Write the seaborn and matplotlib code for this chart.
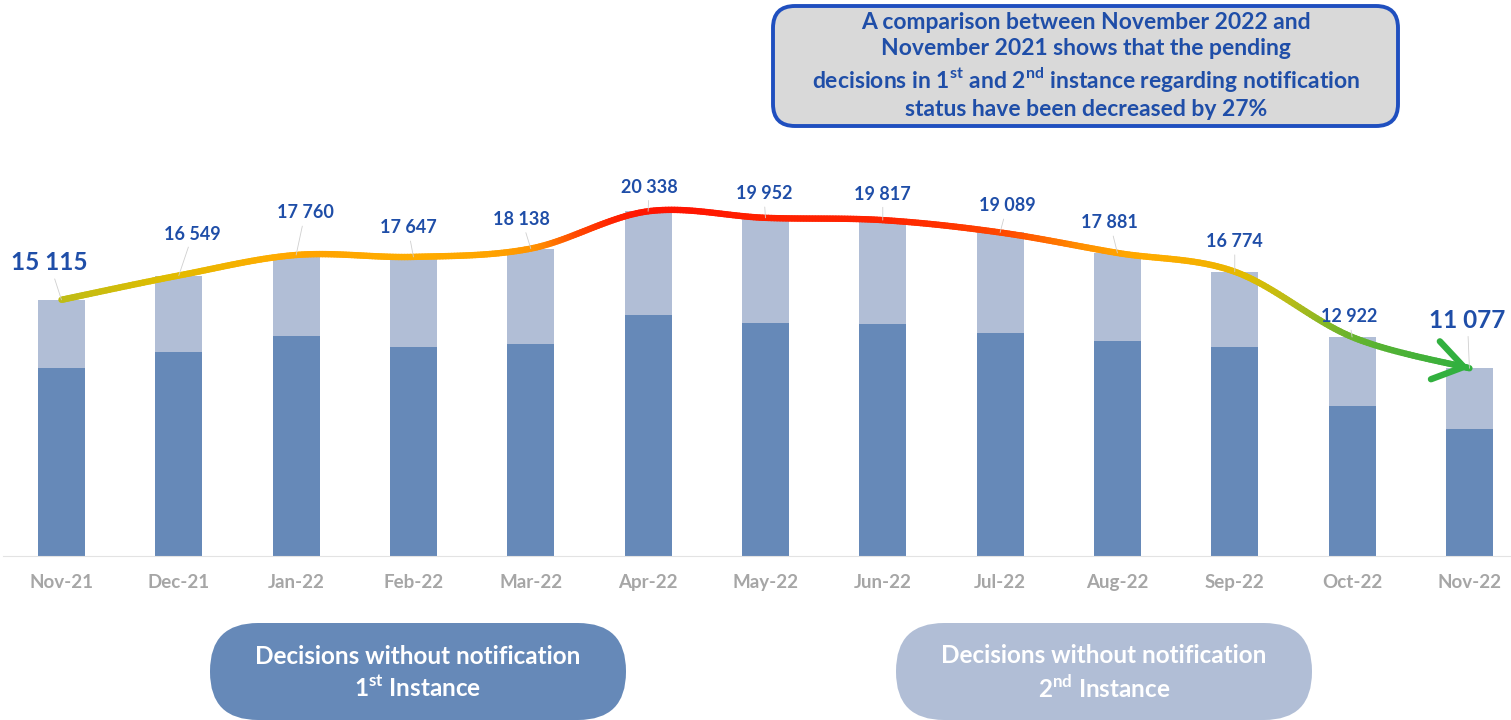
import numpy as np
import pandas as pd
import matplotlib
matplotlib.use("Agg")
import matplotlib.pyplot as plt
import seaborn as sns
from matplotlib.collections import LineCollection
from matplotlib.colors import LinearSegmentedColormap, Normalize
from matplotlib.patches import FancyBboxPatch

# ---------------- data ----------------
months = ['Nov-21', 'Dec-21', 'Jan-22', 'Feb-22', 'Mar-22', 'Apr-22', 'May-22',
          'Jun-22', 'Jul-22', 'Aug-22', 'Sep-22', 'Oct-22', 'Nov-22']
totals = [15115, 16549, 17760, 17647, 18138, 20338, 19952, 19817, 19089, 17881,
          16774, 12922, 11077]
first_instance = [11090, 12040, 12980, 12330, 12510, 14220, 13750, 13690, 13160,
                  12690, 12330, 8850, 7490]
second_instance = [t - f for t, f in zip(totals, first_instance)]

box_text = ("A comparison between November 2022 and\n"
            "November 2021 shows that the pending\n"
            r"decisions in 1$^{\mathbf{st}}$ and 2$^{\mathbf{nd}}$ instance regarding notification" "\n"
            "status have been decreased by 27%")
legend_1 = "Decisions without notification\n" r"1$^{\mathbf{st}}$ Instance"
legend_2 = "Decisions without notification\n" r"2$^{\mathbf{nd}}$ Instance"

# label offsets (pixels) relative to bar top
lab_dx = [-12, 14, 9, -5.5, -9, 1, -1.5, 0, 7, -7.5, 0, -3, -2]
lab_dy = [37, 41.5, 42, 29, 29, 24, 24, 26, 26.5, 30, 30, 20, 48]

# ---------------- style ----------------
sns.set_style("white")
FONT = "Lato"
plt.rcParams['font.family'] = [FONT, 'DejaVu Sans']
plt.rcParams['mathtext.fontset'] = 'custom'
plt.rcParams['mathtext.rm'] = FONT + ':bold'
plt.rcParams['mathtext.bf'] = FONT + ':bold'

DARK = '#6689b8'
LIGHT = '#b1bed6'
TXT_BLUE = '#1f4ea8'

W, H = 1511, 720
fig = plt.figure(figsize=(W / 100, H / 100), dpi=100)

left_px = 2.8
spacing = 117.33
ax = fig.add_axes([left_px / W, 164 / H, (W - left_px) / W, 556 / H])

df = pd.DataFrame({'month': months, 'total': totals, 'first': first_instance})
sns.barplot(data=df, x='month', y='total', color=LIGHT, saturation=1, width=0.4,
            linewidth=0, errorbar=None, ax=ax)
sns.barplot(data=df, x='month', y='first', color=DARK, saturation=1, width=0.4,
            linewidth=0, errorbar=None, ax=ax)

ax.set_xlim(-0.5, -0.5 + (W - left_px) / spacing)
ax.set_ylim(0, 556 * 59.0)
ax.set_xlabel('')
ax.set_ylabel('')
ax.set_yticks([])
for s in ['left', 'top', 'right']:
    ax.spines[s].set_visible(False)
ax.spines['bottom'].set_color('#e3e3e3')
ax.spines['bottom'].set_linewidth(0.8)
ax.tick_params(axis='x', which='major', length=0, pad=13, labelsize=13.5,
               labelcolor='#a6a6a6')
for t in ax.get_xticklabels():
    t.set_fontweight('bold')
ax.set_xticks(np.arange(len(months) - 1) + 0.5, minor=True)
ax.tick_params(axis='x', which='minor', length=4, color='#e3e3e3', width=0.8)

# ---------------- smooth gradient line ----------------
P = np.column_stack([np.arange(len(totals), dtype=float), np.array(totals, float)])
Pext = np.vstack([P[0], P, P[-1]])
curve = []
for i in range(len(P) - 1):
    p0, p1, p2, p3 = Pext[i], Pext[i + 1], Pext[i + 2], Pext[i + 3]
    t = np.linspace(0, 1, 40, endpoint=(i == len(P) - 2))[:, None]
    seg = 0.5 * ((2 * p1) + (-p0 + p2) * t + (2 * p0 - 5 * p1 + 4 * p2 - p3) * t ** 2
                 + (-p0 + 3 * p1 - 3 * p2 + p3) * t ** 3)
    curve.append(seg)
curve = np.vstack(curve)

cmap = LinearSegmentedColormap.from_list('grad', [
    (0.00, '#30b040'), (0.21, '#6cb42c'), (0.43, '#bcbc18'), (0.58, '#e0bc00'),
    (0.71, '#ffab00'), (0.77, '#ff9000'), (0.85, '#ff4c00'), (0.94, '#ff2400'),
    (1.00, '#ff1500')])
norm = Normalize(11000, 20400)
segs = np.stack([curve[:-1], curve[1:]], axis=1)
lc = LineCollection(segs, cmap=cmap, norm=norm, linewidths=4.6, capstyle='round',
                    joinstyle='round', zorder=5)
lc.set_array((curve[:-1, 1] + curve[1:, 1]) / 2)
ax.add_collection(lc)
ax.annotate('', xy=tuple(curve[-1]), xytext=tuple(curve[-8]),
            arrowprops=dict(arrowstyle='->,head_length=1.05,head_width=0.7',
                            color=cmap(norm(curve[-1, 1])), lw=4.6,
                            mutation_scale=20, shrinkA=0, shrinkB=0,
                            capstyle='round', joinstyle='round'),
            zorder=6)

# ---------------- value labels ----------------
for i, (m, v) in enumerate(zip(months, totals)):
    big = i in (0, len(totals) - 1)
    ax.annotate(f"{v:,}".replace(',', ' '), xy=(i, v),
                xytext=(lab_dx[i] * 0.72, lab_dy[i] * 0.72), textcoords='offset points',
                ha='center', va='center', fontsize=17.5 if big else 13,
                fontweight='bold', color=TXT_BLUE, zorder=7,
                arrowprops=dict(arrowstyle='-', color='#cfcfcf', lw=0.6,
                                shrinkA=1, shrinkB=0),
                annotation_clip=False)

# ---------------- overlay: box and legend pills ----------------
ov = fig.add_axes([0, 0, 1, 1], zorder=10)
ov.set_xlim(0, W)
ov.set_ylim(0, H)
ov.axis('off')
ov.patch.set_alpha(0)

box = FancyBboxPatch((773, H - 126), 625, 120,
                     boxstyle="round,pad=0,rounding_size=22",
                     facecolor='#d9d9d9', edgecolor='#1f4fbf', linewidth=2.8)
ov.add_patch(box)
ov.text(1086, H - 66, box_text, ha='center', va='center', fontsize=16.5,
        fontweight='bold', color=TXT_BLUE, linespacing=1.27)

for x0, col, txt in [(210, DARK, legend_1), (896, LIGHT, legend_2)]:
    pill = FancyBboxPatch((x0, 0), 416, 97,
                          boxstyle="round,pad=0,rounding_size=48",
                          facecolor=col, edgecolor='none')
    ov.add_patch(pill)
    ov.text(x0 + 208, H - 673, txt, ha='center', va='center', fontsize=17.5,
            fontweight='bold', color='white', linespacing=1.3)

fig.savefig('out.png', dpi=100)
